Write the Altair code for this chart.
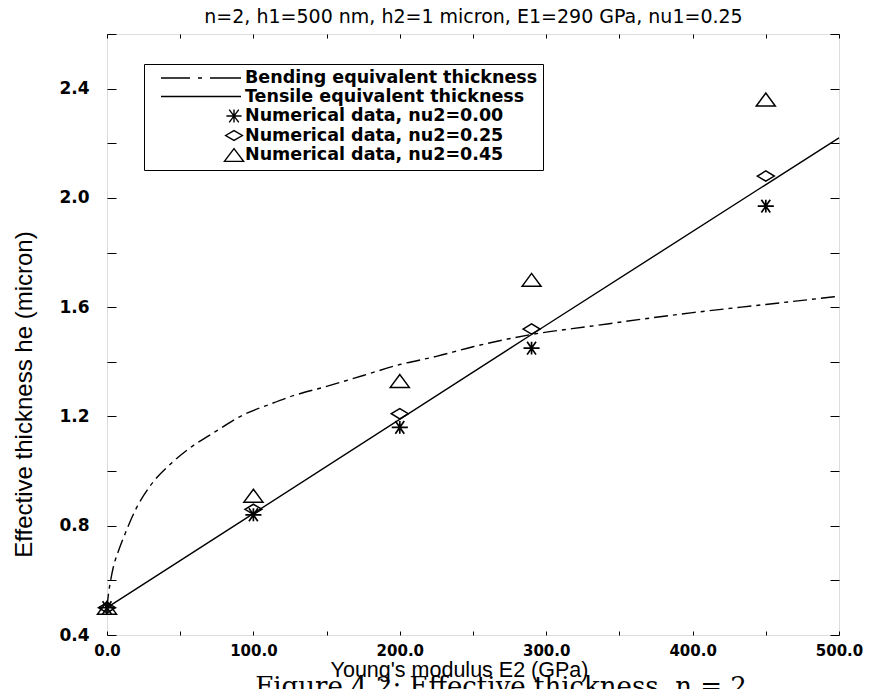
import altair as alt
import pandas as pd

# ---------------- data ----------------
e2_points = [0, 100, 200, 290, 450]
he_nu000 = [0.50, 0.84, 1.16, 1.45, 1.97]
he_nu025 = [0.50, 0.86, 1.21, 1.52, 2.08]
he_nu045 = [0.50, 0.91, 1.33, 1.70, 2.36]

tensile_e2 = [0, 290, 500]
tensile_he = [0.50, 1.50, 2.22]

bending_e2 = [0, 1, 2.5, 4.3, 8, 12.3, 20.3, 29.4, 44.2, 56.7, 72.7, 93.2,
              111.4, 125, 150, 175, 200, 225, 250, 290, 330, 400, 450, 500]
bending_he = [0.50, 0.55, 0.60, 0.648, 0.71, 0.77, 0.867, 0.945, 1.03, 1.085,
              1.14, 1.206, 1.245, 1.272, 1.31, 1.35, 1.39, 1.42, 1.455, 1.50,
              1.53, 1.58, 1.61, 1.64]

legend_labels = ["Bending equivalent thickness",
                 "Tensile equivalent thickness",
                 "Numerical data, nu2=0.00",
                 "Numerical data, nu2=0.25",
                 "Numerical data, nu2=0.45"]

x_ticks = [0, 50, 100, 150, 200, 250, 300, 350, 400, 450, 500]
y_ticks = [0.4, 0.6, 0.8, 1.0, 1.2, 1.4, 1.6, 1.8, 2.0, 2.2, 2.4, 2.6]

title_text = "n=2, h1=500 nm, h2=1 micron, E1=290 GPa, nu1=0.25"
x_title = "Young's modulus E2 (GPa)"
y_title = "Effective thickness he (micron)"
caption = "Figure 4.2: Effective thickness, n = 2"

# ---------------- styles ----------------
W, H = 732, 601
SANS = "DejaVu Sans"

ASTERISK = "M-1,0L1,0M-0.55,-0.8L0.55,0.8M-0.55,0.8L0.55,-0.8M0,-0.8L0,0.8"
DIAMOND = "M-1,0L0,-0.6L1,0L0,0.6Z"
TRIANGLE = "M-1,0.68L0,-0.68L1,0.68Z"

# legend symbols (unit = 8 px, symbol column 16 px wide, centre at 0)
LG_DASHDOT = "M0.375,0L4.0,0M5.0,0L5.5,0M6.5,0L10.375,0"
LG_SOLID = "M0.375,0L10.375,0"
LG_AST = ("M8.55,0L10.45,0M8.9,-0.8L10.1,0.8M8.9,0.8L10.1,-0.8"
          "M9.5,-0.8L9.5,0.8")
LG_DIA = "M8.45,0L9.5,-0.62L10.55,0L9.5,0.62Z"
LG_TRI = "M8.3,0.8L9.5,-0.8L10.7,0.8Z"

xs = alt.Scale(domain=[0, 500], nice=False, zero=False)
ys = alt.Scale(domain=[0.4, 2.6], nice=False, zero=False)

df_bend = pd.DataFrame({"E2": bending_e2, "he": bending_he})
df_tens = pd.DataFrame({"E2": tensile_e2, "he": tensile_he})
df_p0 = pd.DataFrame({"E2": e2_points, "he": he_nu000})
df_p1 = pd.DataFrame({"E2": e2_points, "he": he_nu025})
df_p2 = pd.DataFrame({"E2": e2_points, "he": he_nu045})
df_leg = pd.DataFrame({"series": legend_labels})

x_axis = alt.Axis(
    values=x_ticks,
    labelExpr="datum.value % 100 == 0 ? format(datum.value, '.1f') : ''",
    offset=-4, tickSize=4, tickColor="black", tickWidth=1,
    domain=False, grid=False, labelFlush=False, labelOverlap=False,
    labelFont=SANS, labelFontWeight="bold", labelFontSize=15,
    labelColor="black", labelPadding=8,
    title=x_title, titleFont="Liberation Sans", titleFontSize=21.5,
    titleFontWeight="normal", titleColor="black", titlePadding=1,
    titleX=352,
)
y_axis = alt.Axis(
    values=y_ticks,
    labelExpr="round(datum.value * 10) % 4 == 0 ? format(datum.value, '.1f') : ''",
    offset=-9, tickSize=9, tickColor="black", tickWidth=1,
    domain=False, grid=False, labelFlush=False, labelOverlap=False,
    labelFont=SANS, labelFontWeight="bold", labelFontSize=17,
    labelColor="black", labelPadding=18,
    title=y_title, titleFont="Liberation Sans", titleFontSize=24,
    titleFontWeight="normal", titleColor="black", titlePadding=22,
    titleY=360,
)

X = alt.X("E2:Q", scale=xs, axis=x_axis)
Y = alt.Y("he:Q", scale=ys, axis=y_axis)

bend = alt.Chart(df_bend).mark_line(
    color="black", strokeWidth=1.4, strokeDash=[14, 5, 4, 5],
    interpolate="monotone"
).encode(x=X, y=Y)

tens = alt.Chart(df_tens).mark_line(color="black", strokeWidth=1.4).encode(x=X, y=Y)

def pts(df, shape, size, sw):
    return alt.Chart(df).mark_point(
        shape=shape, size=size, color="black", filled=False,
        strokeWidth=sw, opacity=1
    ).encode(x=X, y=Y)

p0 = pts(df_p0, ASTERISK, 260, 1.7)
p1 = pts(df_p1, DIAMOND, 289, 1.5)
p2 = pts(df_p2, TRIANGLE, 361, 1.5)

legend = alt.Chart(df_leg).mark_point(
    color="black", filled=False, opacity=0
).encode(
    shape=alt.Shape(
        "series:N",
        scale=alt.Scale(domain=legend_labels,
                        range=[LG_DASHDOT, LG_SOLID, LG_AST, LG_DIA, LG_TRI]),
        legend=alt.Legend(
            title=None, orient="none", legendX=37, legendY=30,
            strokeColor="black", fillColor="white", padding=5,
            cornerRadius=0, symbolSize=256, symbolStrokeColor="black",
            symbolFillColor="transparent", symbolStrokeWidth=1.4,
            symbolOpacity=1, labelFont=SANS, labelFontWeight="bold",
            labelFontSize=17.5, labelColor="black", labelOffset=78,
            labelLimit=800, rowPadding=0.5,
        ),
    )
)

main = alt.layer(bend, tens, p0, p1, p2, legend)

frame_axes = alt.Chart(df_tens).mark_point(opacity=0).encode(
    x=alt.X("E2:Q", scale=xs, axis=alt.Axis(
        orient="top", values=x_ticks, labels=False, offset=-4, tickSize=4,
        tickColor="black", domain=False, grid=False,
        title=title_text, titleFont=SANS, titleFontSize=19,
        titleFontWeight="normal", titleColor="black", titlePadding=7)),
    y=alt.Y("he:Q", scale=ys, axis=alt.Axis(
        orient="right", values=y_ticks, labels=False, offset=-9, tickSize=9,
        tickColor="black", domain=False, grid=False, title=None)),
)

chart = alt.layer(main, frame_axes).resolve_scale(
    x="independent", y="independent"
).properties(
    width=W, height=H,
    padding={"left": 99, "top": 26, "right": 27, "bottom": 55},
    autosize=alt.AutoSizeParams(type="none"),
    title=alt.TitleParams(caption, orient="bottom", font="DejaVu Serif",
                          fontSize=26, fontWeight="normal", color="black",
                          anchor="middle", offset=-7, dx=28),
).configure_view(stroke="black", strokeWidth=1.5).configure(background="white")

chart.save("out.html", embed_options={"renderer": "svg", "actions": False})
